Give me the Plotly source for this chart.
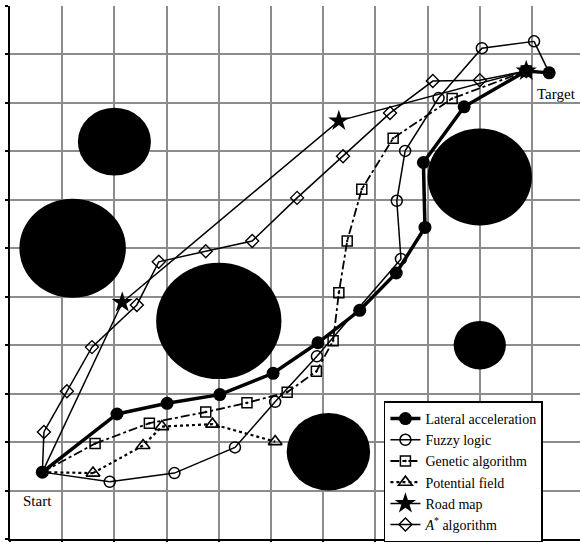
import plotly.graph_objects as go

# Start and target positions (grid units)
start = (0.62, 1.38)
target = (10.33, 9.62)

# Path vertices for each planner (between start and target)
lat_x = [2.05, 3.01, 4.02, 5.04, 5.90, 6.70, 7.40, 7.95, 7.92, 8.70, 9.89]
lat_y = [2.58, 2.80, 2.98, 3.42, 4.05, 4.72, 5.49, 6.43, 7.77, 8.92, 9.66]

fuzzy_x = [1.91, 3.15, 4.31, 5.08, 5.88, 7.49, 7.41, 7.57, 8.21, 9.04, 10.04]
fuzzy_y = [1.18, 1.36, 1.89, 2.83, 3.77, 5.78, 6.98, 8.01, 9.10, 10.13, 10.27]

gen_x = [1.63, 2.67, 3.75, 4.54, 5.31, 5.87, 6.19, 6.30, 6.46, 6.74, 7.34, 8.47, 9.89]
gen_y = [1.97, 2.39, 2.62, 2.81, 3.03, 3.46, 4.09, 5.08, 6.15, 7.22, 8.27, 9.09, 9.66]

pot_x = [1.59, 2.55, 2.91, 3.88, 5.08]
pot_y = [1.36, 1.93, 2.32, 2.37, 2.01]

road_x = [2.15, 6.30, 9.89]
road_y = [4.88, 8.63, 9.66]

astar_x = [0.65, 1.09, 1.57, 2.43, 2.85, 3.75, 4.64, 5.50, 6.38, 7.28, 8.10, 9.00, 9.89]
astar_y = [2.21, 3.05, 3.96, 4.83, 5.72, 5.94, 6.15, 7.04, 7.90, 8.79, 9.45, 9.47, 9.66]

# Circular obstacles: centre and radius (grid units)
obs_x = [2.0, 1.2, 4.0, 9.0, 9.0, 6.1]
obs_y = [8.2, 6.0, 4.5, 7.47, 4.0, 1.8]
obs_r = [0.7, 1.02, 1.2, 1.0, 0.5, 0.8]

names = ["Lateral acceleration", "Fuzzy logic", "Genetic algorithm",
         "Potential field", "Road map", "<i>A</i><sup>*</sup> algorithm"]

FONT = "Liberation Serif, Times New Roman, serif"

fig = go.Figure()

specs = [
    (lat_x, lat_y, True, dict(color="black", width=3.5),
     dict(symbol="circle", size=13, color="black")),
    (fuzzy_x, fuzzy_y, True, dict(color="black", width=1.5),
     dict(symbol="circle-open", size=11, color="black", line=dict(width=1.5))),
    (gen_x, gen_y, True, dict(color="black", width=1.8, dash="dashdot"),
     dict(symbol="square-open-dot", size=10, color="black", line=dict(width=1.5))),
    (pot_x, pot_y, False, dict(color="black", width=2.2, dash="dot"),
     dict(symbol="triangle-up-open", size=12, color="black", line=dict(width=1.6))),
    (road_x, road_y, True, dict(color="black", width=1.5),
     dict(symbol="star", size=16, color="black")),
    (astar_x, astar_y, True, dict(color="black", width=1.5),
     dict(symbol="diamond-open", size=10, color="black", line=dict(width=1.4))),
]

for name, (xs, ys, tt, ln, mk) in zip(names, specs):
    # connecting segments from the start point and into the target (no markers)
    fig.add_trace(go.Scatter(x=[start[0], xs[0]], y=[start[1], ys[0]],
                             mode="lines", line=ln, showlegend=False,
                             hoverinfo="skip"))
    if tt:
        fig.add_trace(go.Scatter(x=[xs[-1], target[0]], y=[ys[-1], target[1]],
                                 mode="lines", line=ln, showlegend=False,
                                 hoverinfo="skip"))
    # the path itself with its vertex markers
    fig.add_trace(go.Scatter(x=xs, y=ys, mode="lines+markers", name=name,
                             line=ln, marker=mk))

# Start and target points drawn as filled circles
fig.add_trace(go.Scatter(x=[start[0], target[0]], y=[start[1], target[1]],
                         mode="markers", showlegend=False,
                         marker=dict(symbol="circle", size=13, color="black")))

for cx, cy, r in zip(obs_x, obs_y, obs_r):
    fig.add_shape(type="circle", xref="x", yref="y",
                  x0=cx - r, x1=cx + r, y0=cy - r, y1=cy + r,
                  fillcolor="black", line=dict(width=0, color="black"),
                  layer="between")

fig.add_annotation(x=start[0], y=start[1], text="Start", showarrow=False,
                   xshift=-5, yshift=-29, font=dict(family=FONT, size=15, color="black"))
fig.add_annotation(x=target[0], y=target[1], text="Target", showarrow=False,
                   xshift=7, yshift=-21, font=dict(family=FONT, size=15, color="black"))

axis_common = dict(showgrid=True, gridcolor="#8c8c8c", gridwidth=2,
                   showline=True, linecolor="black", linewidth=2,
                   ticks="outside", ticklen=3, tickwidth=2, tickcolor="black",
                   showticklabels=False, zeroline=False, dtick=1, tick0=0)

fig.update_xaxes(range=[0, 10.92], **axis_common)
fig.update_yaxes(range=[0, 11], **axis_common)

fig.update_layout(
    width=580, height=542,
    margin=dict(l=10, r=0, t=6, b=3, autoexpand=False),
    plot_bgcolor="white", paper_bgcolor="white",
    font=dict(family=FONT, size=14, color="black"),
    legend=dict(x=0.656, y=0.258, xanchor="left", yanchor="top",
                bgcolor="white", bordercolor="black", borderwidth=1.5,
                font=dict(family=FONT, size=14), tracegroupgap=0,
                itemwidth=30),
)

fig.write_html("out.html")
